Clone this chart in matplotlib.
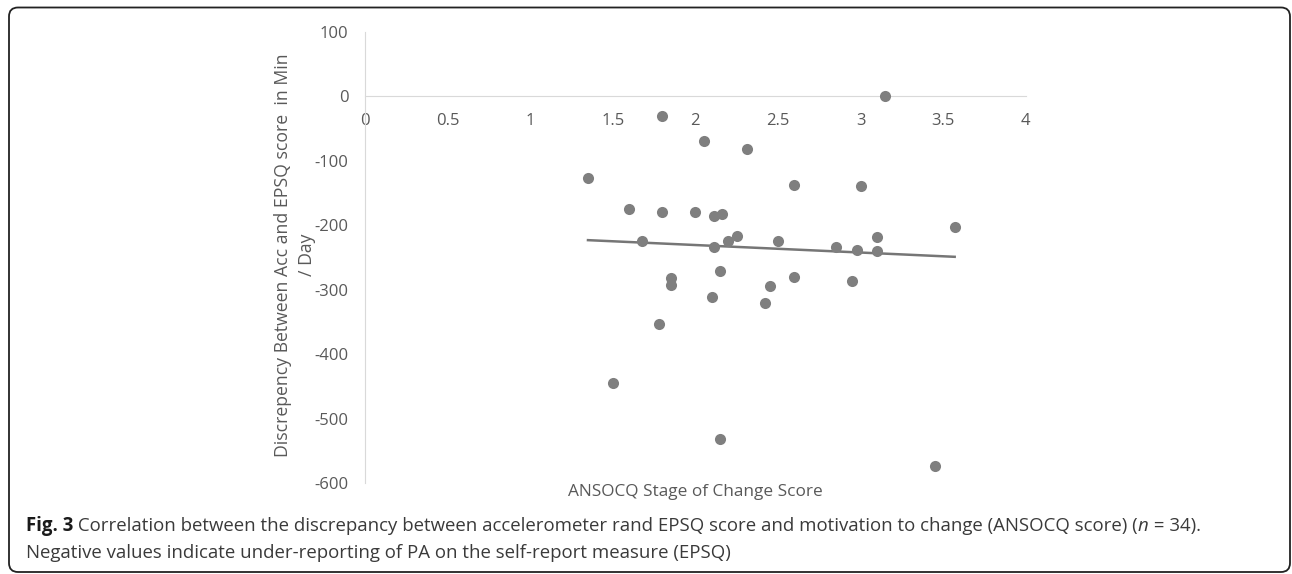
import numpy as np
import matplotlib
matplotlib.use('Agg')
from matplotlib import pyplot as plt
from matplotlib.patches import FancyBboxPatch
from matplotlib.transforms import IdentityTransform

# ANSOCQ score vs. discrepancy (Acc - EPSQ), min/day
ansocq = [1.80, 2.05, 2.31, 1.35, 1.60, 1.80, 2.00, 2.11, 2.16, 1.68, 2.11, 2.20,
          2.25, 2.15, 1.85, 1.85, 2.10, 3.15, 2.60, 3.00, 2.50, 2.85, 2.98, 3.10,
          3.10, 3.57, 2.60, 2.45, 2.95, 2.42, 1.78, 1.50, 2.15, 3.45]
discrepancy = [-30, -69, -81, -127, -175, -179, -179, -185, -182, -224, -233, -224,
               -216, -271, -282, -292, -311, 0, -137, -139, -224, -233, -239, -218,
               -240, -203, -280, -294, -287, -320, -353, -445, -531, -573]
x_ticks = [0, 0.5, 1, 1.5, 2, 2.5, 3, 3.5, 4]
y_ticks = [100, 0, -100, -200, -300, -400, -500, -600]

plt.rcParams['font.family'] = ['Open Sans', 'DejaVu Sans']

W, H = 1292, 574
fig = plt.figure(figsize=(W / 100, H / 100), dpi=100)
ax = fig.add_axes([365 / W, 1 - 483 / H, (1025.7 - 365) / W, (483 - 32) / H])

ax.plot(ansocq, discrepancy, 'o', color='#7f7f7f', markersize=8, markeredgewidth=0, zorder=3)

# linear trendline
slope, intercept = np.polyfit(ansocq, discrepancy, 1)
xs = np.array([min(ansocq), max(ansocq)])
ax.plot(xs, slope * xs + intercept, color='#767676', lw=1.8, zorder=2)

ax.set_xlim(0, 4)
ax.set_ylim(-600, 100)
ax.set_xticks(x_ticks)
ax.set_xticklabels(['{:g}'.format(t) for t in x_ticks])
ax.set_yticks(y_ticks)
ax.set_yticklabels(['{:g}'.format(t) for t in y_ticks])

for s in ['top', 'right']:
    ax.spines[s].set_visible(False)
ax.spines['bottom'].set_position(('data', 0))
ax.spines['bottom'].set_color('#d9d9d9')
ax.spines['left'].set_color('#d9d9d9')
ax.tick_params(length=0, labelsize=12, labelcolor='#595959', pad=12)

fig.text(695 / W, 1 - 492 / H, 'ANSOCQ Stage of Change Score', ha='center', va='center',
         fontsize=12.4, color='#595959')
fig.text(295 / W, 1 - 255 / H, 'Discrepency Between Acc and EPSQ score  in Min\n/ Day',
         rotation=90, ha='center', va='center', multialignment='center',
         fontsize=12.7, color='#595959', linespacing=1.5)

# caption, built piece by piece
renderer = fig.canvas.get_renderer()
cap_size = 13.45
def put_line(pieces, x0, y0):
    x = x0
    for txt, weight, style, col in pieces:
        t = fig.text(x / W, 1 - y0 / H, txt, ha='left', va='center', fontsize=cap_size,
                     fontweight=weight, fontstyle=style, color=col)
        bb = t.get_window_extent(renderer)
        x += bb.width

put_line([('Fig. 3', 'bold', 'normal', '#1a1a1a'),
          (' Correlation between the discrepancy between accelerometer rand EPSQ score and '
           'motivation to change (ANSOCQ score) (', 'normal', 'normal', '#3a3a3a'),
          ('n', 'normal', 'italic', '#3a3a3a'),
          (' = 34).', 'normal', 'normal', '#3a3a3a')], 26, 526)
put_line([('Negative values indicate under-reporting of PA on the self-report measure (EPSQ)',
           'normal', 'normal', '#3a3a3a')], 26, 553)

# rounded frame round the figure
frame = FancyBboxPatch((9, 2), 1281, 564.5, boxstyle='round,pad=0,rounding_size=9',
                       transform=IdentityTransform(), fill=False, edgecolor='#222222', lw=1.3)
fig.patches.append(frame)

fig.savefig('out.png', dpi=100)
